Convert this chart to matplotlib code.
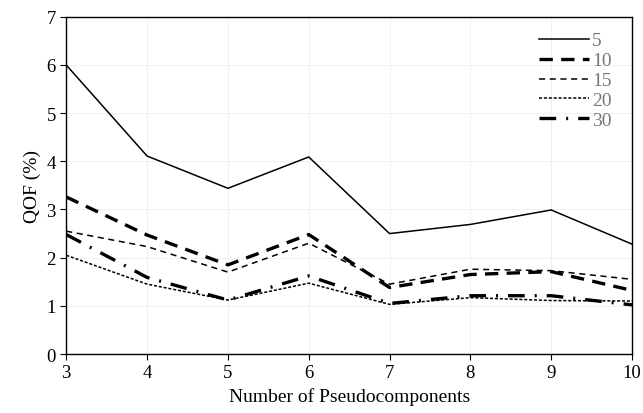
import matplotlib.pyplot as plt

plt.rcParams["font.family"] = ["Liberation Serif", "DejaVu Serif"]

# --- Data ---
n_pseudo = [3, 4, 5, 6, 7, 8, 9, 10]
labels = ["5", "10", "15", "20", "30"]
qof_5 = [6.00, 4.11, 3.44, 4.09, 2.50, 2.69, 2.99, 2.28]
qof_10 = [3.26, 2.47, 1.85, 2.48, 1.38, 1.65, 1.71, 1.32]
qof_15 = [2.55, 2.23, 1.70, 2.30, 1.45, 1.76, 1.73, 1.55]
qof_20 = [2.05, 1.45, 1.12, 1.47, 1.03, 1.17, 1.11, 1.10]
qof_30 = [2.48, 1.59, 1.12, 1.62, 1.05, 1.21, 1.21, 1.02]

series = [qof_5, qof_10, qof_15, qof_20, qof_30]
styles = [
    dict(lw=1.1, ls="-"),
    dict(lw=2.4, dashes=(4, 2.5)),
    dict(lw=1.1, dashes=(4, 3)),
    dict(lw=1.1, dashes=(2, 1.2)),
    dict(lw=2.4, dashes=(5, 3, 0.6, 3)),
]

fig = plt.figure(figsize=(6.43, 4.14), dpi=100)
ax = fig.add_axes([0.103, 0.1425, 0.880, 0.8145])

for vals, lab, st in zip(series, labels, styles):
    ax.plot(n_pseudo, vals, color="black", label=lab, **st)

ax.set_xlim(3, 10)
ax.set_ylim(0, 7)
ax.set_xticks(n_pseudo)
ax.set_yticks(range(0, 8))
ax.grid(True, color="#eeeeee", lw=0.6)
ax.tick_params(labelsize=13.5, length=4, direction="out")
ax.set_xlabel("Number of Pseudocomponents", fontsize=14)
ax.set_ylabel("QOF (%)", fontsize=14)
for s in ax.spines.values():
    s.set_linewidth(1.0)

leg = ax.legend(loc="upper right", bbox_to_anchor=(0.985, 0.99), frameon=False,
                fontsize=14, handlelength=2.6, handletextpad=0.15,
                labelspacing=0.12, borderaxespad=0.2)
for t in leg.get_texts():
    t.set_color("#777777")

fig.savefig("out.png", dpi=100)
